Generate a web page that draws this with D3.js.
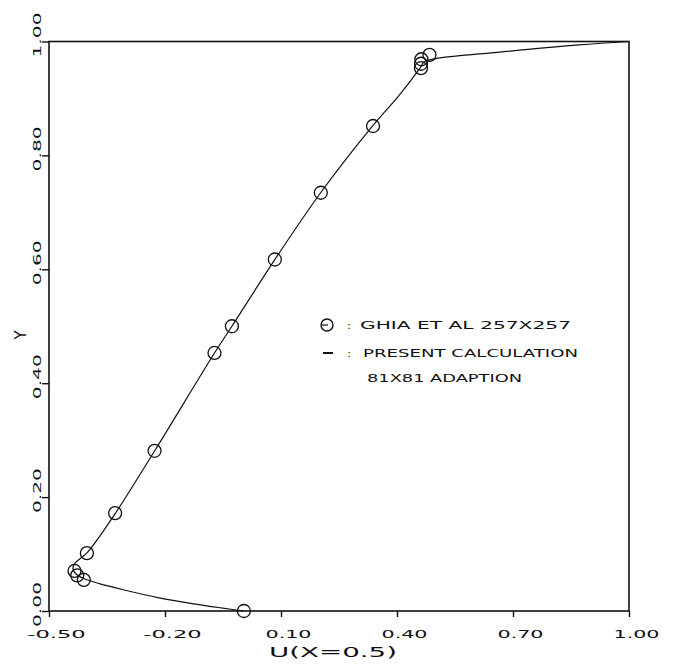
<!DOCTYPE html>
<html>
<head>
<meta charset="utf-8">
<script src="https://cdn.jsdelivr.net/npm/d3@7"></script>
<style>
  body { margin: 0; background: #fff; }
  text { font-family: "DejaVu Sans", sans-serif; fill: #111; }
</style>
</head>
<body>
<div id="chart"></div>
<script>
// tick values and labels
var xTicks = [-0.5, -0.2, 0.1, 0.4, 0.7, 1.0];
var xTickLabels = ["-0.50", "-0.20", "0.10", "0.40", "0.70", "1.00"];
var yTicks = [0, 0.2, 0.4, 0.6, 0.8, 1.0];
var yTickLabels = ["0.00", "0.20", "0.40", "0.60", "0.80", "1.00"];

// Ghia et al 257x257 reference points (circles)
var ghiaY = [0.0, 0.0547, 0.0625, 0.0703, 0.1016, 0.1719, 0.2813, 0.4531, 0.5, 0.6172, 0.7344, 0.8516, 0.9531, 0.9609, 0.9688, 0.9766];
var ghiaU = [0.004, -0.410, -0.427, -0.434, -0.402, -0.329, -0.227, -0.072, -0.027, 0.084, 0.203, 0.338, 0.462, 0.462, 0.463, 0.484];

// present calculation, 81x81 adaption (solid line)
var calcY = [0.0, 0.005, 0.013, 0.023, 0.036, 0.048, 0.057, 0.065, 0.074, 0.084, 0.102, 0.172, 0.281, 0.453, 0.5, 0.617, 0.734, 0.852, 0.905, 0.952, 0.964, 0.970, 0.981, 0.994, 1.0];
var calcU = [0.004, -0.05, -0.13, -0.215, -0.30, -0.37, -0.41, -0.43, -0.438, -0.433, -0.402, -0.328, -0.227, -0.072, -0.027, 0.084, 0.202, 0.337, 0.405, 0.458, 0.47, 0.50, 0.66, 0.87, 1.0];

var legendLines = ["GHIA ET AL 257X257", "PRESENT CALCULATION", "81X81 ADAPTION"];

var W = 673, H = 664;
var m = {left: 49, right: 629, top: 41.5, bottom: 611};

var svg = d3.select("#chart").append("svg")
    .attr("width", W)
    .attr("height", H);

svg.append("rect").attr("width", W).attr("height", H).attr("fill", "#fff");

var x = d3.scaleLinear().domain([-0.5, 1.0]).range([m.left, m.right]);
var y = d3.scaleLinear().domain([0, 1]).range([m.bottom, m.top]);

// frame
svg.append("rect")
    .attr("x", m.left).attr("y", m.top)
    .attr("width", m.right - m.left).attr("height", m.bottom - m.top)
    .attr("fill", "none").attr("stroke", "#111").attr("stroke-width", 1.6);

// x axis
var gx = svg.append("g")
    .attr("transform", "translate(0," + m.bottom + ")")
    .call(d3.axisBottom(x).tickValues(xTicks).tickSize(6)
      .tickFormat(function(d, i) { return xTickLabels[i]; }));
gx.select(".domain").remove();
gx.selectAll("line").attr("stroke", "#111").attr("stroke-width", 1.4);
gx.selectAll("text")
    .attr("y", 27).attr("dy", 0).attr("dx", 7)
    .attr("font-size", 10)
    .attr("textLength", function(d, i) { return xTickLabels[i].length * 12.5 - 4; })
    .attr("lengthAdjust", "spacingAndGlyphs");

// y axis
var gy = svg.append("g")
    .attr("transform", "translate(" + m.left + ",0)")
    .call(d3.axisLeft(y).tickValues(yTicks).tickSize(7)
      .tickFormat(function(d, i) { return yTickLabels[i]; }));
gy.select(".domain").remove();
gy.selectAll("line").attr("stroke", "#111").attr("stroke-width", 1.4);
gy.selectAll("text")
    .attr("x", 0).attr("dy", 0).attr("dx", 0)
    .attr("text-anchor", "middle")
    .attr("transform", "translate(-8,-7) rotate(-90)")
    .attr("font-size", 11)
    .attr("textLength", 45)
    .attr("lengthAdjust", "spacingAndGlyphs");

// axis titles
svg.append("text")
    .attr("x", 333).attr("y", 657)
    .attr("text-anchor", "middle")
    .attr("font-size", 14)
    .attr("textLength", 128)
    .attr("lengthAdjust", "spacingAndGlyphs")
    .text("U(X=0.5)");

svg.append("text")
    .attr("transform", "translate(26,335) rotate(-90)")
    .attr("text-anchor", "middle")
    .attr("font-size", 15)
    .text("Y");

// calculation line
var line = d3.line()
    .x(function(d) { return x(d.u); })
    .y(function(d) { return y(d.y); })
    .curve(d3.curveCatmullRom);

var calc = calcY.map(function(v, i) { return {y: v, u: calcU[i]}; });
svg.append("path")
    .datum(calc)
    .attr("fill", "none")
    .attr("stroke", "#111")
    .attr("stroke-width", 1.2)
    .attr("d", line);

// Ghia circles
var ghia = ghiaY.map(function(v, i) { return {y: v, u: ghiaU[i]}; });
svg.selectAll(".pt")
    .data(ghia)
  .enter().append("circle")
    .attr("class", "pt")
    .attr("cx", function(d) { return x(d.u); })
    .attr("cy", function(d) { return y(d.y); })
    .attr("r", 6.5)
    .attr("fill", "none")
    .attr("stroke", "#111")
    .attr("stroke-width", 1.3);

// legend
var lg = svg.append("g");
lg.append("circle").attr("cx", 327).attr("cy", 325).attr("r", 6)
    .attr("fill", "none").attr("stroke", "#111").attr("stroke-width", 1.4);
lg.append("line").attr("x1", 322).attr("x2", 328).attr("y1", 325).attr("y2", 325)
    .attr("stroke", "#111").attr("stroke-width", 1.2);
lg.append("line").attr("x1", 323).attr("x2", 333).attr("y1", 353).attr("y2", 353)
    .attr("stroke", "#111").attr("stroke-width", 2);
[329, 357].forEach(function(by) {
  lg.append("text").attr("x", 349).attr("y", by).attr("text-anchor", "middle")
    .attr("font-size", 11).text(":");
});
var lx = [360, 363, 367], ly = [329, 357, 382], lw = [211, 215, 155];
legendLines.forEach(function(t, i) {
  lg.append("text")
    .attr("x", lx[i]).attr("y", ly[i])
    .attr("font-size", 10.5)
    .attr("textLength", lw[i])
    .attr("lengthAdjust", "spacingAndGlyphs")
    .text(t);
});
</script>
</body>
</html>
